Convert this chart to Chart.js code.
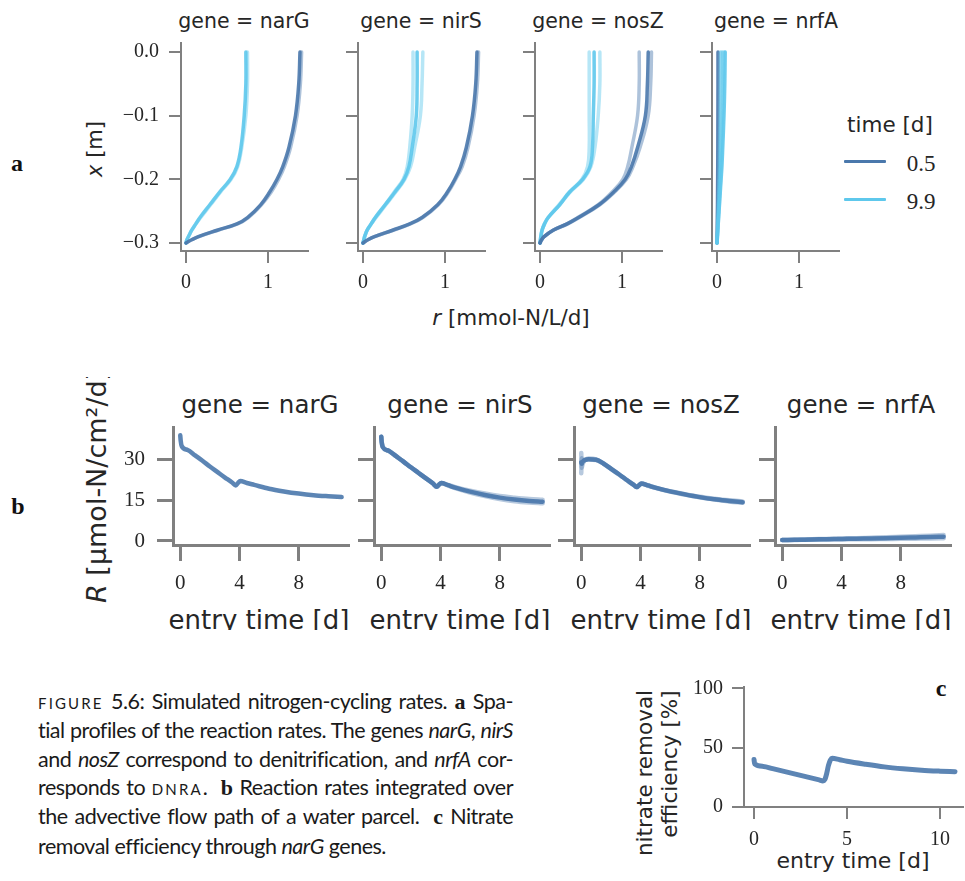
<!DOCTYPE html>
<html>
<head>
<meta charset="utf-8">
<title>Simulated nitrogen-cycling rates</title>
<script src="https://cdn.jsdelivr.net/npm/chart.js@4.4.0/dist/chart.umd.min.js"></script>
<style>
  html, body { margin: 0; padding: 0; background: #fff; }
  #fig { position: relative; width: 965px; height: 881px; overflow: hidden; color: #262626; font-family: 'DejaVu Sans', sans-serif; }
  .t { position: absolute; white-space: nowrap; line-height: 1; transform: translate(-50%, -50%); }
  .rot { transform: translate(-50%, -50%) rotate(-90deg); }
  .serif { font-family: 'Liberation Serif', serif; }
  .tag { font-family: 'Liberation Serif', serif; font-weight: bold; font-size: 24px; color: #111; }
  .key { position: absolute; width: 42px; height: 3px; border-radius: 1px; }
  #rowB { position: absolute; left: 0; top: 377px; width: 965px; height: 253px; overflow: hidden; }
  #ylabB { position: absolute; left: 96px; top: 226px; white-space: nowrap; line-height: 1; font-size: 27px;
           transform-origin: 0 0; transform: rotate(-90deg) translateY(-50%); }
  #caption { position: absolute; left: 38px; top: 687px; width: 475px; font-family: Lato, sans-serif;
             font-size: 21.5px; line-height: 28.33px; color: #1a1a1a; letter-spacing: -0.5px; word-spacing: -1px; }
  #caption div { text-align: justify; text-align-last: justify; }
  #caption div.last { text-align: left; text-align-last: left; word-spacing: 0; }
  #caption .sc { font-variant: small-caps; letter-spacing: 0.1em; }
  #caption b { font-family: 'Liberation Serif', serif; font-size: 22px; letter-spacing: 0; }
</style>
</head>
<body>
<div id="fig">
  <!-- a: depth profiles -->
  <div class="t" style="left:244px; top:21px; font-size:20.5px">gene = narG</div>
  <div class="t" style="left:421px; top:21px; font-size:20.5px">gene = nirS</div>
  <div class="t" style="left:598px; top:21px; font-size:20.5px">gene = nosZ</div>
  <div class="t" style="left:776px; top:21px; font-size:20.5px">gene = nrfA</div>
  <div class="t rot" style="left:95px; top:149px; font-size:21px"><i>x</i> [m]</div>
  <div class="t" style="left:511px; top:318px; font-size:21.5px"><i>r</i> [mmol-N/L/d]</div>
  <div class="t tag" style="left:17px; top:163px">a</div>

  <div class="t" style="left:890px; top:125px; font-size:21.5px">time [d]</div>
  <div class="key" style="left:844px; top:160px; background:rgb(74,120,172)"></div>
  <div class="key" style="left:844px; top:198px; background:rgb(94,200,236)"></div>
  <div class="t serif" style="left:921px; top:163px; font-size:23px">0.5</div>
  <div class="t serif" style="left:921px; top:201px; font-size:23px">9.9</div>

  <!-- b: integrated rates -->
  <div id="rowB">
    <div class="t" style="left:260px; top:28px; font-size:24.5px">gene = narG</div>
    <div class="t" style="left:460px; top:28px; font-size:24.5px">gene = nirS</div>
    <div class="t" style="left:661px; top:28px; font-size:24.5px">gene = nosZ</div>
    <div class="t" style="left:861px; top:28px; font-size:24.5px">gene = nrfA</div>
    <div class="t" style="left:259px; top:243px; font-size:26px">entry time [d]</div>
    <div class="t" style="left:460px; top:243px; font-size:26px">entry time [d]</div>
    <div class="t" style="left:661px; top:243px; font-size:26px">entry time [d]</div>
    <div class="t" style="left:861px; top:243px; font-size:26px">entry time [d]</div>
    <div id="ylabB"><i>R</i> [µmol-N/cm²/d]</div>
  </div>
  <div class="t tag" style="left:18px; top:506px">b</div>

  <!-- c: removal efficiency -->
  <div class="t rot" style="left:645px; top:773px; font-size:21.5px">nitrate removal</div>
  <div class="t rot" style="left:670px; top:764px; font-size:21.5px">efficiency [%]</div>
  <div class="t" style="left:853px; top:861px; font-size:22px">entry time [d]</div>
  <div class="t tag" style="left:941px; top:688px">c</div>

  <div id="caption">
    <div><span class="sc">figure</span> 5.6: Simulated nitrogen-cycling rates. <b>a</b> Spa-</div>
    <div>tial profiles of the reaction rates. The genes <i>narG</i>, <i>nirS</i></div>
    <div>and <i>nosZ</i> correspond to denitrification, and <i>nrfA</i> cor-</div>
    <div>responds to <span class="sc">dnra</span>.&nbsp; <b>b</b> Reaction rates integrated over</div>
    <div>the advective flow path of a water parcel.&nbsp; <b>c</b> Nitrate</div>
    <div class="last">removal efficiency through <i>narG</i> genes.</div>
  </div>
</div>

<script>
const genes = ['narG', 'nirS', 'nosZ', 'nrfA'];
const profileTimes = ['0.5', '9.9'];

// depth of the profile points, x [m]
const depth = [0, -0.05, -0.1, -0.15, -0.18, -0.2, -0.22, -0.24, -0.26, -0.27, -0.28, -0.29, -0.295, -0.3];

// reaction rate r [mmol-N/L/d] at each depth; several ensemble members per time
const narG_t05 = [
  [1.39, 1.375, 1.335, 1.255, 1.18, 1.11, 1.02, 0.91, 0.75, 0.62, 0.38, 0.15, 0.07, 0],
  [1.41, 1.395, 1.355, 1.275, 1.20, 1.13, 1.04, 0.92, 0.76, 0.63, 0.39, 0.16, 0.07, 0]
];
const narG_t99 = [
  [0.73, 0.73, 0.71, 0.67, 0.62, 0.54, 0.41, 0.29, 0.17, 0.12, 0.07, 0.03, 0.01, 0],
  [0.75, 0.75, 0.73, 0.68, 0.63, 0.55, 0.42, 0.30, 0.18, 0.12, 0.07, 0.03, 0.01, 0]
];
const nirS_t05 = [
  [1.39, 1.375, 1.335, 1.26, 1.19, 1.12, 1.03, 0.91, 0.72, 0.57, 0.36, 0.14, 0.06, 0],
  [1.41, 1.395, 1.355, 1.28, 1.21, 1.13, 1.04, 0.92, 0.73, 0.58, 0.37, 0.14, 0.06, 0]
];
const nirS_t99 = [
  [0.66, 0.66, 0.65, 0.60, 0.56, 0.50, 0.39, 0.27, 0.15, 0.10, 0.05, 0.02, 0.01, 0],
  [0.61, 0.61, 0.60, 0.57, 0.54, 0.49, 0.38, 0.27, 0.15, 0.10, 0.05, 0.02, 0.01, 0],
  [0.73, 0.72, 0.70, 0.63, 0.58, 0.51, 0.40, 0.28, 0.16, 0.10, 0.05, 0.02, 0.01, 0]
];
const nosZ_t05 = [
  [1.32, 1.31, 1.285, 1.19, 1.115, 1.04, 0.90, 0.72, 0.47, 0.33, 0.16, 0.05, 0.02, 0],
  [1.36, 1.35, 1.32, 1.22, 1.135, 1.055, 0.91, 0.73, 0.48, 0.34, 0.16, 0.05, 0.02, 0],
  [1.21, 1.21, 1.19, 1.12, 1.07, 1.01, 0.88, 0.71, 0.46, 0.33, 0.16, 0.05, 0.02, 0]
];
const nosZ_t99 = [
  [0.66, 0.66, 0.65, 0.64, 0.61, 0.52, 0.36, 0.24, 0.10, 0.055, 0.025, 0.01, 0.005, 0],
  [0.73, 0.73, 0.71, 0.67, 0.62, 0.53, 0.37, 0.24, 0.10, 0.055, 0.025, 0.01, 0.005, 0],
  [0.60, 0.60, 0.60, 0.60, 0.58, 0.51, 0.36, 0.23, 0.10, 0.055, 0.025, 0.01, 0.005, 0]
];
const nrfA_t05 = [
  [0.012, 0.012, 0.011, 0.010, 0.009, 0.008, 0.007, 0.006, 0.004, 0.003, 0.002, 0.001, 0.001, 0]
];
const nrfA_t99 = [
  [0.10, 0.095, 0.085, 0.07, 0.06, 0.05, 0.04, 0.03, 0.02, 0.015, 0.01, 0.005, 0.003, 0],
  [0.085, 0.08, 0.073, 0.062, 0.053, 0.045, 0.036, 0.028, 0.019, 0.014, 0.009, 0.005, 0.003, 0],
  [0.07, 0.066, 0.06, 0.052, 0.045, 0.038, 0.031, 0.024, 0.016, 0.012, 0.008, 0.004, 0.002, 0],
  [0.055, 0.052, 0.047, 0.041, 0.036, 0.031, 0.025, 0.02, 0.014, 0.01, 0.007, 0.004, 0.002, 0],
  [0.04, 0.038, 0.035, 0.031, 0.027, 0.024, 0.02, 0.016, 0.011, 0.008, 0.006, 0.003, 0.002, 0]
];

const profileTicksX = [0, 1];
const profileTicksY = [0, -0.1, -0.2, -0.3];

// integrated rate R [µmol-N/cm²/d] against entry time [d]
const entryTime = [0, 0.03, 0.1, 0.5, 1, 1.5, 2, 2.5, 3, 3.5, 3.75, 3.9, 4.05, 4.5, 5, 6, 7, 8, 9, 10, 10.9];
const R_narG = [
  [39, 37, 35, 33.6, 31.6, 29.6, 27.5, 25.5, 23.5, 21.6, 20.5, 21.4, 22.1, 21.4, 20.7, 19.3, 18.3, 17.5, 16.9, 16.5, 16.2]
];
const R_nirS = [
  [38.5, 36.5, 34.7, 33.3, 31.3, 29.3, 27.2, 25.2, 23.2, 21.2, 20.0, 20.8, 21.4, 20.6, 19.7, 18.2, 17.0, 16.0, 15.3, 14.8, 14.5],
  [38.5, 36.5, 34.7, 33.3, 31.3, 29.3, 27.2, 25.2, 23.2, 21.2, 20.0, 20.8, 21.4, 20.7, 19.9, 18.6, 17.5, 16.6, 16.0, 15.5, 15.2],
  [38.5, 36.5, 34.7, 33.3, 31.3, 29.3, 27.2, 25.2, 23.2, 21.2, 20.0, 20.8, 21.4, 20.5, 19.5, 17.9, 16.6, 15.5, 14.7, 14.2, 13.9]
];
const R_nosZ = [
  [29.0, 28.5, 29.3, 30.2, 30.0, 28.6, 26.7, 24.8, 22.8, 20.9, 19.9, 20.6, 21.2, 20.5, 19.7, 18.3, 17.2, 16.2, 15.4, 14.8, 14.3],
  [32.5, 27.0, 28.5, 30.4, 30.1, 28.6, 26.7, 24.8, 22.8, 20.9, 19.9, 20.6, 21.2, 20.5, 19.7, 18.4, 17.3, 16.3, 15.6, 15.0, 14.6],
  [25.0, 30.5, 29.8, 30.1, 29.9, 28.5, 26.6, 24.7, 22.7, 20.8, 19.8, 20.5, 21.1, 20.4, 19.6, 18.2, 17.1, 16.1, 15.3, 14.6, 14.1]
];
const R_nrfA = [
  [0.35, 0.35, 0.35, 0.4, 0.45, 0.5, 0.55, 0.6, 0.65, 0.7, 0.72, 0.74, 0.76, 0.8, 0.85, 0.95, 1.05, 1.15, 1.3, 1.45, 1.6],
  [0.35, 0.35, 0.35, 0.42, 0.5, 0.57, 0.64, 0.71, 0.78, 0.85, 0.88, 0.9, 0.92, 0.98, 1.05, 1.2, 1.35, 1.55, 1.75, 1.95, 2.2],
  [0.35, 0.35, 0.35, 0.38, 0.4, 0.43, 0.46, 0.49, 0.52, 0.55, 0.56, 0.57, 0.58, 0.6, 0.63, 0.68, 0.74, 0.8, 0.87, 0.94, 1.0]
];

const entryTicks = [0, 4, 8];
const rateTicks = [0, 15, 30];

// nitrate removal efficiency [%] through narG
const entryTimeC = [0, 0.03, 0.5, 1, 1.5, 2, 2.5, 3, 3.5, 3.7, 3.8, 3.9, 4.0, 4.1, 4.2, 4.6, 5, 6, 7, 8, 9, 10, 10.8];
const efficiency = [40, 36.3, 34.2, 32.3, 30.4, 28.5, 26.6, 24.7, 22.8, 22.0, 23.0, 28.0, 35.0, 39.5, 41.0, 39.8, 38.5, 36.0, 33.8, 32.2, 31.0, 30.2, 29.7];
const effTicksX = [0, 5, 10];
const effTicksY = [0, 50, 100];

const DARK = '74, 120, 172';
const LIGHT = '94, 200, 236';
const AXIS = '#808080';
const INK = '#262626';

const fig = document.getElementById('fig');
const rowB = document.getElementById('rowB');

function axis(s) {
  return {
    type: 'linear',
    min: s.min,
    max: s.max,
    afterBuildTicks: sc => { sc.ticks = s.ticks.map(v => ({ value: v })); },
    afterFit: sc => {
      if (s.horizontal) sc.height = s.room; else sc.width = s.room;
      // labels may hang past the plot edge; keep the plot area where the box says
      sc.paddingTop = sc.paddingBottom = sc.paddingLeft = sc.paddingRight = 0;
    },
    border: { display: true, color: AXIS, width: s.lw },
    grid: { display: true, drawOnChartArea: false, drawTicks: true, tickLength: s.len, color: AXIS, lineWidth: s.lw },
    ticks: {
      color: INK, padding: s.pad, autoSkip: false, maxRotation: 0,
      font: { family: 'Liberation Serif', size: s.fs },
      callback: s.fmt || (v => String(v))
    }
  };
}

// box is the plot area in page pixels; the canvas grows around it for the tick labels
function panel(o) {
  const padT = 14, padR = o.padR || 4;
  const left = o.box.l - o.yRoom;
  const top = o.box.t - padT;
  const w = o.box.r + padR - left;
  const h = o.box.b + o.xRoom - top;
  const cv = document.createElement('canvas');
  cv.width = w;
  cv.height = h;
  cv.style.cssText = `position:absolute;left:${left}px;top:${top - (o.oy || 0)}px;width:${w}px;height:${h}px`;
  (o.parent || fig).appendChild(cv);
  return new Chart(cv.getContext('2d'), {
    type: 'scatter',
    data: { datasets: o.datasets },
    options: {
      animation: false,
      responsive: false,
      devicePixelRatio: 1,
      events: [],
      layout: { padding: { top: padT, right: padR, left: 0, bottom: 0 } },
      plugins: { legend: { display: false }, tooltip: { enabled: false } },
      elements: { point: { radius: 0 }, line: { borderCapStyle: 'round', borderJoinStyle: 'round' } },
      scales: { x: axis({ ...o.x, horizontal: true, room: o.xRoom }), y: axis({ ...o.y, room: o.yRoom }) }
    }
  });
}

function profileLines(members, rgb) {
  return members.map((r, k) => ({
    data: r.map((v, i) => ({ x: v, y: depth[i] })),
    showLine: true,
    tension: 0.4,
    borderWidth: 3.5,
    borderColor: `rgba(${rgb}, ${k === 0 ? 0.9 : 0.45})`
  }));
}

function entryLines(members, t, width) {
  return members.map((R, k) => ({
    data: R.map((v, i) => ({ x: t[i], y: v })),
    showLine: true,
    cubicInterpolationMode: 'monotone',
    borderWidth: width,
    borderColor: `rgba(${DARK}, ${k === 0 ? 0.9 : 0.4})`
  }));
}

// a: depth profiles, one panel per gene
const profiles = [
  [narG_t05, narG_t99], [nirS_t05, nirS_t99], [nosZ_t05, nosZ_t99], [nrfA_t05, nrfA_t99]
];
const fmtDepth = v => (v < 0 ? '\u2212' : '') + Math.abs(v).toFixed(1);
genes.forEach((g, i) => {
  const [early, late] = profiles[i];
  const sets = g === 'nrfA'
    ? [...profileLines(late, LIGHT), ...profileLines(early, DARK)]
    : [...profileLines(early, DARK), ...profileLines(late, LIGHT)];
  const l = 181 + i * 177;
  panel({
    box: { l, t: 43, r: l + 127, b: 251 },
    yRoom: 62, xRoom: 46,
    datasets: sets,
    x: { min: -0.061, max: 1.488, ticks: profileTicksX, len: 12, lw: 2, pad: 8, fs: 20 },
    y: { min: -0.3126, max: 0.0141, ticks: profileTicksY, len: 12, lw: 2, pad: 10, fs: 20,
         fmt: i === 0 ? fmtDepth : () => '' }
  });
});

// b: rates integrated along the flow path
const rates = [R_narG, R_nirS, R_nosZ, R_nrfA];
genes.forEach((g, i) => {
  const l = 173 + i * 200.5;
  panel({
    parent: rowB, oy: 377,
    box: { l, t: 427, r: l + 175, b: 545 },
    yRoom: 60, xRoom: 60,
    datasets: entryLines(rates[i], entryTime, 4.5),
    x: { min: -0.49, max: 11.33, ticks: entryTicks, len: 16, lw: 3, pad: 10, fs: 21 },
    y: { min: -1.48, max: 42.07, ticks: rateTicks, len: 16, lw: 3, pad: 12, fs: 21,
         fmt: i === 0 ? (v => String(v)) : () => '' }
  });
});

// c: removal efficiency
panel({
  box: { l: 744, t: 687, r: 963, b: 807 },
  yRoom: 50, xRoom: 46, padR: 2,
  datasets: entryLines([efficiency], entryTimeC, 5),
  x: { min: -0.54, max: 11.23, ticks: effTicksX, len: 12, lw: 2, pad: 9, fs: 20 },
  y: { min: 0, max: 101.1, ticks: effTicksY, len: 12, lw: 2, pad: 9, fs: 20 }
});
</script>
</body>
</html>
